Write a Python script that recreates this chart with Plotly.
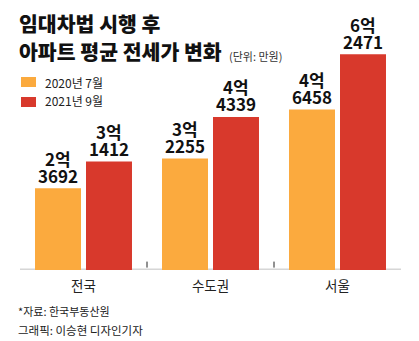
import plotly.graph_objects as go

# 아파트 평균 전세가 (단위: 만원)
regions = ["전국", "수도권", "서울"]
jul_2020 = [23692, 32255, 46458]
sep_2021 = [31412, 44339, 62471]
series_names = ["2020년 7월", "2021년 9월"]

ORANGE = "#FBAA3E"
RED = "#D8392C"
KR = "Noto Sans CJK KR, Noto Sans, sans-serif"
KR_HEAVY = "Noto Sans CJK KR Black, Noto Sans CJK KR, sans-serif"
NUM = "Liberation Sans Narrow, Noto Sans CJK KR, sans-serif"

fig = go.Figure()
for name, vals, col in [(series_names[0], jul_2020, ORANGE), (series_names[1], sep_2021, RED)]:
    fig.add_trace(go.Bar(
        x=regions, y=vals, name=name, marker=dict(color=col, line=dict(width=0)),
        showlegend=False,
    ))

fig.update_layout(
    width=419, height=341,
    margin=dict(l=20, r=18, t=30, b=71),
    paper_bgcolor="white", plot_bgcolor="white",
    barmode="group", bargap=0.197, bargroupgap=0.098,
    xaxis=dict(range=[-0.5, 2.5], showgrid=False, zeroline=False, showline=False,
               ticks="", tickfont=dict(family=KR, size=13.5, color="#222"),
               ticklabelstandoff=6),
    yaxis=dict(range=[0, 69500], visible=False),
)

# baseline and group separators
shapes = [
    dict(type="line", xref="paper", yref="y", x0=0, x1=1, y0=0, y1=0,
         line=dict(color="#D6D6D6", width=3), layer="below"),
]
for xs in [0.5, 1.5]:
    shapes.append(dict(type="line", xref="x", yref="paper", x0=xs, x1=xs,
                       y0=0.01, y1=0.035, line=dict(color="#222", width=1)))

# legend swatches
for i, col in enumerate([ORANGE, RED]):
    y0 = 77 + i * 20
    shapes.append(dict(type="rect", xref="paper", yref="paper",
                       x0=(21 - 20) / 381, x1=(36 - 20) / 381,
                       y0=(270 - (y0 + 10)) / 240, y1=(270 - y0) / 240,
                       fillcolor=col, line=dict(width=0)))
fig.update_layout(shapes=shapes)

ann = []

# value labels: "N억" over the remaining 만원 digits, stacked above each bar
for offset, vals in [(-25.5, jul_2020), (25.5, sep_2021)]:
    for cat, v in zip(regions, vals):
        for text, shift in [(f"<b>{v % 10000}</b>", 13), (f"<b>{v // 10000}억</b>", 30)]:
            ann.append(dict(text=text, xref="x", yref="y", x=cat, y=v,
                            xshift=offset, yshift=shift, xanchor="center",
                            yanchor="middle", showarrow=False, borderpad=0,
                            font=dict(family=NUM, size=17, color="#111")))


def px_text(text, x, y, size, color="#111", family=KR, xanchor="left"):
    ann.append(dict(text=text, xref="paper", yref="paper",
                    x=(x - 20) / 381, y=(270 - y) / 240,
                    xanchor=xanchor, yanchor="middle", showarrow=False,
                    font=dict(family=family, size=size, color=color)))


px_text("<b>임대차법 시행 후</b>", 17, 23, 20.5, family=KR_HEAVY)
px_text("<b>아파트 평균 전세가 변화</b>", 17, 51, 20.5, family=KR_HEAVY)
px_text("(단위: 만원)", 227, 56, 11, color="#333")
px_text(series_names[0], 43, 82, 12, color="#222")
px_text(series_names[1], 43, 101, 12, color="#222")
px_text("*자료: 한국부동산원", 16, 311, 11, color="#222")
px_text("그래픽: 이승현 디자인기자", 16, 330, 11.5, color="#222")
fig.update_layout(annotations=ann)

fig.write_html("out.html")
